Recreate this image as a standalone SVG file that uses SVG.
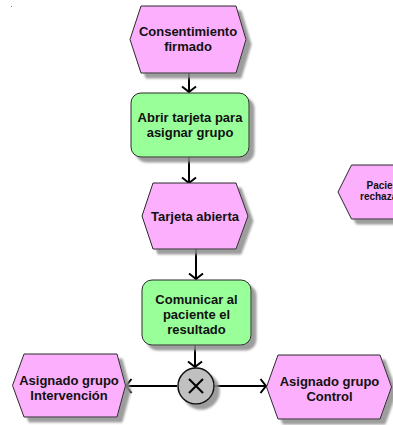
<svg xmlns="http://www.w3.org/2000/svg" width="393" height="425" viewBox="0 0 393 425">
  <style>
    .event { fill: #FCAFFC; stroke: #2a2a2a; stroke-width: 1; filter: url(#shadow); }
    .func { fill: #99FF99; stroke: #2a2a2a; stroke-width: 1; filter: url(#shadow); }
    .xor { fill: #C0C0C0; stroke: #111; stroke-width: 1.5; filter: url(#shadow); }
    .lbl { font-family: "Liberation Sans", Arial, sans-serif; font-weight: bold; font-size: 13px; fill: #111; text-anchor: middle; }
    .lbl-sm { font-family: "Liberation Sans", Arial, sans-serif; font-weight: bold; font-size: 10px; fill: #111; }
    .flow { stroke: #000; stroke-width: 2; fill: none; marker-end: url(#arrow); }
  </style>
  <defs>
    <filter id="shadow" x="-10%" y="-10%" width="130%" height="130%">
      <feDropShadow dx="5" dy="5" stdDeviation="1" flood-color="#8c8c8c" flood-opacity="0.85"/>
    </filter>
    <marker id="arrow" viewBox="-8 -8 10 16" markerWidth="10" markerHeight="16" refX="0" refY="0" orient="auto" markerUnits="userSpaceOnUse">
      <path d="M-5.5,-7 L0,0 L-5.5,7" fill="none" stroke="#000" stroke-width="2"/>
    </marker>
  </defs>

  <rect x="11" y="6" width="1" height="1" fill="#777"/>

  <g id="connectors">
    <line class="flow" x1="189" y1="73" x2="189" y2="92"/>
    <line class="flow" x1="189" y1="157" x2="189" y2="183"/>
    <line class="flow" x1="196" y1="249" x2="196" y2="279"/>
    <line class="flow" x1="195" y1="345" x2="195" y2="367"/>
    <line class="flow" x1="177" y1="386" x2="126" y2="386"/>
    <line class="flow" x1="214" y1="386" x2="266" y2="386"/>
  </g>

  <g id="consentimiento-firmado">
    <polygon class="event" points="141,6 236,6 246,39.5 236,73 141,73 130,39.5"/>
    <text class="lbl" x="188" y="36">Consentimiento</text>
    <text class="lbl" x="188" y="51">firmado</text>
  </g>

  <g id="abrir-tarjeta">
    <rect class="func" x="131" y="93" width="118" height="64" rx="10"/>
    <text class="lbl" x="190" y="122">Abrir tarjeta para</text>
    <text class="lbl" x="190" y="137">asignar grupo</text>
  </g>

  <g id="tarjeta-abierta">
    <polygon class="event" points="153,183 236,183 248,216 236,249 153,249 142,216"/>
    <text class="lbl" x="195" y="221">Tarjeta abierta</text>
  </g>

  <g id="comunicar-resultado">
    <rect class="func" x="142" y="280" width="109" height="65" rx="10"/>
    <text class="lbl" x="196.5" y="303.5">Comunicar al</text>
    <text class="lbl" x="196.5" y="318.5">paciente el</text>
    <text class="lbl" x="196.5" y="333.5">resultado</text>
  </g>

  <g id="xor">
    <circle class="xor" cx="196" cy="386" r="18"/>
    <path d="M189,379 L203,393 M203,379 L189,393" stroke="#000" stroke-width="2" fill="none"/>
  </g>

  <g id="asignado-intervencion">
    <polygon class="event" points="24,354 117,354 125.5,385.5 117,417 24,417 12.5,385.5"/>
    <text class="lbl" x="69" y="384.5">Asignado grupo</text>
    <text class="lbl" x="69" y="399.5">Intervención</text>
  </g>

  <g id="asignado-control">
    <polygon class="event" points="278,355 380,355 391.5,387 380,419 278,419 266.5,387"/>
    <text class="lbl" x="329.5" y="385.5">Asignado grupo</text>
    <text class="lbl" x="329.5" y="400.5">Control</text>
  </g>

  <g id="paciente-rechaza">
    <polygon class="event" points="351.5,165 430,165 440,192 430,219 351.5,219 338,192"/>
    <text class="lbl-sm" x="366.5" y="188.5">Pacie</text>
    <text class="lbl-sm" x="360" y="200">rechaza</text>
  </g>
</svg>
